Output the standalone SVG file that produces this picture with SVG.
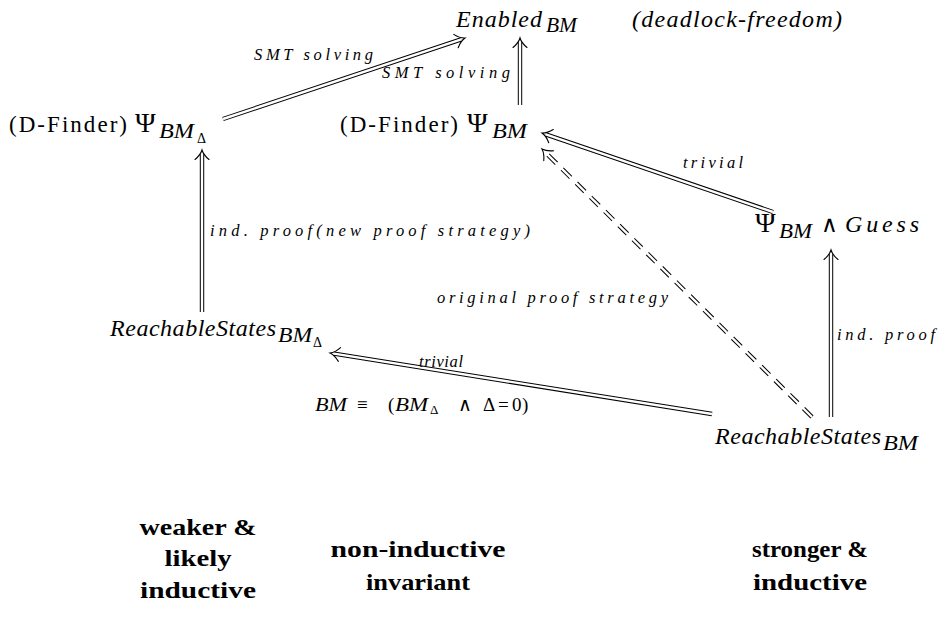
<svg xmlns="http://www.w3.org/2000/svg" width="951" height="635" viewBox="0 0 951 635">
<style>
text{font-family:'Liberation Serif','Times New Roman',serif;fill:#000}
.m{font-style:italic;font-size:24px}
.r{font-size:23px}
.p{font-size:28px}
.s{font-style:italic;font-size:20px}
.ss{font-size:14px}
.l{font-style:italic;font-size:16.5px}
.b{font-weight:bold;font-size:24px;text-anchor:middle}
.o{fill:none;stroke:#000;stroke-width:4.4}
.i{fill:none;stroke:#fff;stroke-width:2.4}
.d{stroke-dasharray:12 8}
</style>
<defs>
<marker id="ah" markerUnits="userSpaceOnUse" viewBox="-10 -10 20 20" markerWidth="20" markerHeight="20" refX="0" refY="0" orient="auto" overflow="visible">
<path d="M -5.5,-7 Q -1,-1.5 4,0 Q -1,1.5 -5.5,7" fill="none" stroke="#000" stroke-width="1.1" stroke-linecap="round"/>
</marker>
</defs>
<rect width="951" height="635" fill="#fff"/>
<g id="connectors">
<g id="e-dfd-enabled"><path class="o" d="M223,119 L461.2,39.3" marker-end="url(#ah)"/><path class="i" d="M223,119 L461.2,39.3"/></g>
<g id="e-psi-enabled"><path class="o" d="M520,105 L520,42" marker-end="url(#ah)"/><path class="i" d="M520,105 L520,42"/></g>
<g id="e-guess-psi"><path class="o" d="M773,212 L545.8,134.3" marker-end="url(#ah)"/><path class="i" d="M773,212 L545.8,134.3"/></g>
<g id="e-rs-psi"><path class="o d" d="M812,417 L544.8,151.8" marker-end="url(#ah)"/><path class="i" d="M812,417 L544.8,151.8"/></g>
<g id="e-rs-guess"><path class="o" d="M831,417 L831,254" marker-end="url(#ah)"/><path class="i" d="M831,417 L831,254"/></g>
<g id="e-rs-rsd"><path class="o" d="M712,414 L334,353.6" marker-end="url(#ah)"/><path class="i" d="M712,414 L334,353.6"/></g>
<g id="e-rsd-dfd"><path class="o" d="M202,312 L202,154" marker-end="url(#ah)"/><path class="i" d="M202,312 L202,154"/></g>
<text class="l" x="254" y="60" textLength="119">SMT solving</text>
<text class="l" x="382" y="78" textLength="128">SMT solving</text>
<text class="l" x="683" y="168" textLength="60">trivial</text>
<text class="l" x="210" y="236" textLength="320">ind. proof(new proof strategy)</text>
<text class="l" x="437" y="303" textLength="231">original proof strategy</text>
<text class="l" x="837" y="340" textLength="98">ind. proof</text>
<text class="l" x="419" y="367" textLength="44">trivial</text>
<text y="411" font-size="19"><tspan x="315" font-style="italic" textLength="32" lengthAdjust="spacingAndGlyphs">BM</tspan><tspan x="357">≡</tspan><tspan x="388">(</tspan><tspan x="395" font-style="italic" textLength="33" lengthAdjust="spacingAndGlyphs">BM</tspan><tspan x="430" font-size="13" dy="3">Δ</tspan><tspan x="458" dy="-3">∧</tspan><tspan x="483">Δ</tspan><tspan x="498">=</tspan><tspan x="512">0</tspan><tspan x="522">)</tspan></text>
</g>
<g id="n-enabled"><text class="m" x="456" y="27" textLength="86">Enabled</text><text class="s" x="546" y="32" textLength="31" lengthAdjust="spacingAndGlyphs">BM</text></g>
<g id="n-deadlock"><text class="m" x="632" y="27" font-size="22" textLength="210">(deadlock-freedom)</text></g>
<g id="n-psi-delta"><text class="r" x="9" y="132" textLength="118">(D-Finder)</text><text class="p" x="135" y="132">Ψ</text><text class="s" x="159" y="138" textLength="35" lengthAdjust="spacingAndGlyphs">BM</text><text class="ss" x="197" y="143">Δ</text></g>
<g id="n-psi"><text class="r" x="340" y="132" textLength="118">(D-Finder)</text><text class="p" x="467" y="132">Ψ</text><text class="s" x="492" y="138" textLength="35" lengthAdjust="spacingAndGlyphs">BM</text></g>
<g id="n-guess"><text class="p" x="755" y="232">Ψ</text><text class="s" x="779" y="238" textLength="33" lengthAdjust="spacingAndGlyphs">BM</text><text class="r" x="821" y="232">∧</text><text class="m" x="845" y="232" textLength="74">Guess</text></g>
<g id="n-rsd"><text class="m" x="110" y="336" textLength="166">ReachableStates</text><text class="s" x="278" y="342" textLength="34" lengthAdjust="spacingAndGlyphs">BM</text><text class="ss" x="313" y="347">Δ</text></g>
<g id="n-rs"><text class="m" x="715" y="444" textLength="166">ReachableStates</text><text class="s" x="883" y="450" textLength="35" lengthAdjust="spacingAndGlyphs">BM</text></g>
<g id="legend">
<text class="b" x="198" y="535" textLength="117" lengthAdjust="spacingAndGlyphs">weaker &amp;</text>
<text class="b" x="198" y="566" textLength="67" lengthAdjust="spacingAndGlyphs">likely</text>
<text class="b" x="198" y="598" textLength="116" lengthAdjust="spacingAndGlyphs">inductive</text>
<text class="b" x="418" y="557" textLength="175" lengthAdjust="spacingAndGlyphs">non-inductive</text>
<text class="b" x="418" y="590" textLength="104" lengthAdjust="spacingAndGlyphs">invariant</text>
<text class="b" x="810" y="557" textLength="116" lengthAdjust="spacingAndGlyphs">stronger &amp;</text>
<text class="b" x="810" y="590" textLength="114" lengthAdjust="spacingAndGlyphs">inductive</text>
</g>
</svg>
